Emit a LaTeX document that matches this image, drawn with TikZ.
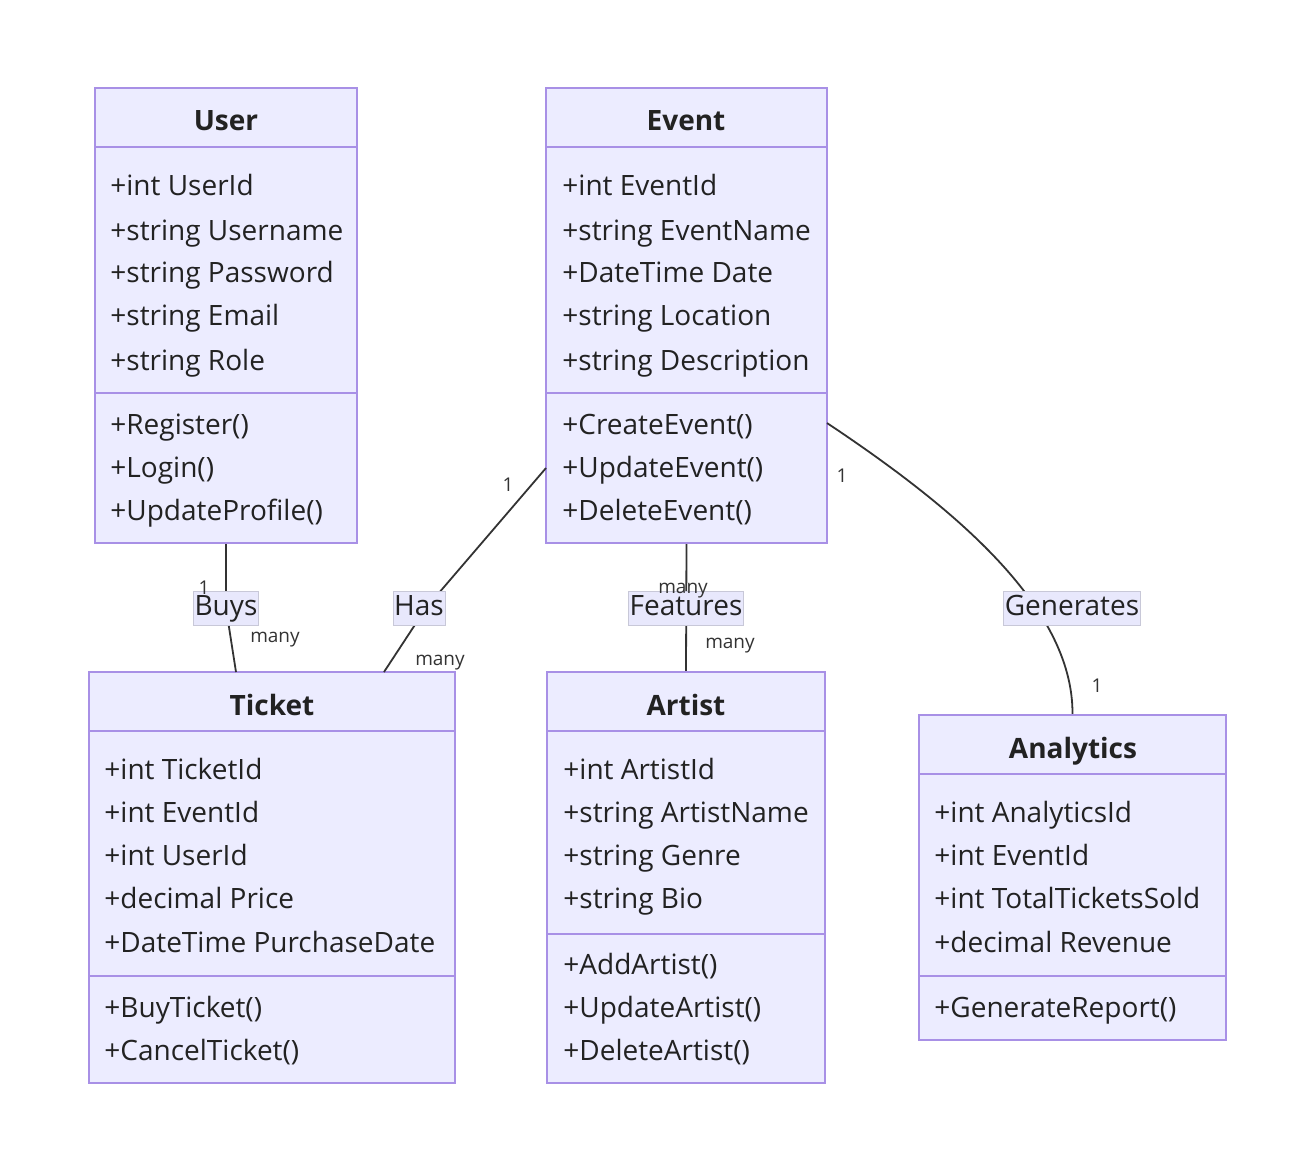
\documentclass[tikz,border=0pt]{standalone}
\usepackage{fontspec}
\setmainfont{Open Sans}
\usetikzlibrary{fit}
\definecolor{boxfill}{HTML}{ECECFF}
\definecolor{boxline}{HTML}{A890E6}
\definecolor{edgecol}{HTML}{333333}
\definecolor{txt}{HTML}{222222}
\definecolor{lblfill}{HTML}{E8E8FC}
\definecolor{lblline}{HTML}{C8C8D8}
\tikzset{
  classbox/.style={draw=boxline, fill=boxfill, line width=1.2pt, inner sep=0pt},
  divider/.style={draw=boxline, line width=1.2pt},
  attr/.style={anchor=base west, inner sep=0pt, text=txt, font=\fontsize{14}{16}\selectfont},
  ctitle/.style={anchor=base, inner sep=0pt, text=txt, font=\fontsize{14}{16}\selectfont\bfseries},
  edge/.style={draw=edgecol, line width=0.9pt},
  elabel/.style={fill=lblfill, draw=lblline, line width=0.4pt, text=txt, inner xsep=0.6pt, inner ysep=0pt,
    minimum height=17pt, text height=11pt, text depth=3.5pt, font=\fontsize{14}{16}\selectfont},
  card/.style={text=edgecol, inner sep=0pt, font=\fontsize{9.5}{11}\selectfont}
}
\begin{document}
\begin{tikzpicture}[x=0.5pt,y=-0.5pt]
\fill[white] (0,0) rectangle (1314,1174);
\useasboundingbox (0,0) rectangle (1314,1174);

% ---------- class boxes ----------
\node[classbox, fit={(95,88) (357,543)}] (user) {};
\node[classbox, fit={(546,88) (827,543)}] (event) {};
\node[classbox, fit={(89,672) (455,1083)}] (ticket) {};
\node[classbox, fit={(547,672) (825,1083)}] (artist) {};
\node[classbox, fit={(919,715) (1226,1040)}] (analytics) {};

\draw[divider] (95,147) -- (357,147);
\draw[divider] (95,393) -- (357,393);
\draw[divider] (546,147) -- (827,147);
\draw[divider] (546,393) -- (827,393);
\draw[divider] (89,731) -- (455,731);
\draw[divider] (89,976) -- (455,976);
\draw[divider] (547,731) -- (825,731);
\draw[divider] (547,934) -- (825,934);
\draw[divider] (919,774) -- (1226,774);
\draw[divider] (919,976) -- (1226,976);

% ---------- User ----------
\node[ctitle] (userT) at (226,130) {User};
\node[attr] (u1) at (110,195) {+int UserId};
\node[attr] (u2) at (110,240) {+string Username};
\node[attr] (u3) at (110,282) {+string Password};
\node[attr] (u4) at (110,325) {+string Email};
\node[attr] (u5) at (110,370) {+string Role};
\node[attr] (u6) at (110,434) {+Register()};
\node[attr] (u7) at (110,477) {+Login()};
\node[attr] (u8) at (110,520) {+UpdateProfile()};

% ---------- Event ----------
\node[ctitle] (eventT) at (686,130) {Event};
\node[attr] (e1) at (562,195) {+int EventId};
\node[attr] (e2) at (562,240) {+string EventName};
\node[attr] (e3) at (562,282) {+DateTime Date};
\node[attr] (e4) at (562,325) {+string Location};
\node[attr] (e5) at (562,370) {+string Description};
\node[attr] (e6) at (562,434) {+CreateEvent()};
\node[attr] (e7) at (562,477) {+UpdateEvent()};
\node[attr] (e8) at (562,520) {+DeleteEvent()};

% ---------- Ticket ----------
\node[ctitle] (ticketT) at (272,715) {Ticket};
\node[attr] (t1) at (104,779) {+int TicketId};
\node[attr] (t2) at (104,822) {+int EventId};
\node[attr] (t3) at (104,865) {+int UserId};
\node[attr] (t4) at (104,908) {+decimal Price};
\node[attr] (t5) at (104,952) {+DateTime PurchaseDate};
\node[attr] (t6) at (104,1017) {+BuyTicket()};
\node[attr] (t7) at (104,1060) {+CancelTicket()};

% ---------- Artist ----------
\node[ctitle] (artistT) at (686,715) {Artist};
\node[attr] (a1) at (563,779) {+int ArtistId};
\node[attr] (a2) at (563,822) {+string ArtistName};
\node[attr] (a3) at (563,865) {+string Genre};
\node[attr] (a4) at (563,908) {+string Bio};
\node[attr] (a5) at (563,974) {+AddArtist()};
\node[attr] (a6) at (563,1017) {+UpdateArtist()};
\node[attr] (a7) at (563,1060) {+DeleteArtist()};

% ---------- Analytics ----------
\node[ctitle] (analyticsT) at (1073,758) {Analytics};
\node[attr] (n1) at (934,822) {+int AnalyticsId};
\node[attr] (n2) at (934,865) {+int EventId};
\node[attr] (n3) at (934,908) {+int TotalTicketsSold};
\node[attr] (n4) at (934,952) {+decimal Revenue};
\node[attr] (n5) at (934,1017) {+GenerateReport()};

% ---------- connectors ----------
\coordinate (buysc) at (226,608);
\coordinate (tkbuys) at (236,672);
\draw[edge] (user.south) -- (buysc) -- (tkbuys);

\coordinate (evhas) at (546,468);
\coordinate (hasp) at (426,608);
\coordinate (tkhas) at (384,672);
\draw[edge] (evhas) -- (hasp) -- (tkhas);

\draw[edge] (event.south) -- (artist.north);

\coordinate (evgen) at (827,423);
\draw[edge] (evgen) .. controls (950,505) and (1073,605) .. (analytics.north);

% ---------- edge labels ----------
\node[elabel] (buys) at (226,608) {Buys};
\node[elabel] (has) at (419,608) {Has};
\node[elabel] (features) at (686,608) {Features};
\node[elabel] (generates) at (1072,608) {Generates};

% ---------- cardinalities ----------
\node[card] (c1) at (204,588) {1};
\node[card] (c2) at (275,640) {many};
\node[card] (c3) at (508,485) {1};
\node[card] (c4) at (440,663) {many};
\node[card] (c5) at (683,591) {many};
\node[card] (c6) at (730,646) {many};
\node[card] (c7) at (842,476) {1};
\node[card] (c8) at (1097,686) {1};
\end{tikzpicture}
\end{document}
